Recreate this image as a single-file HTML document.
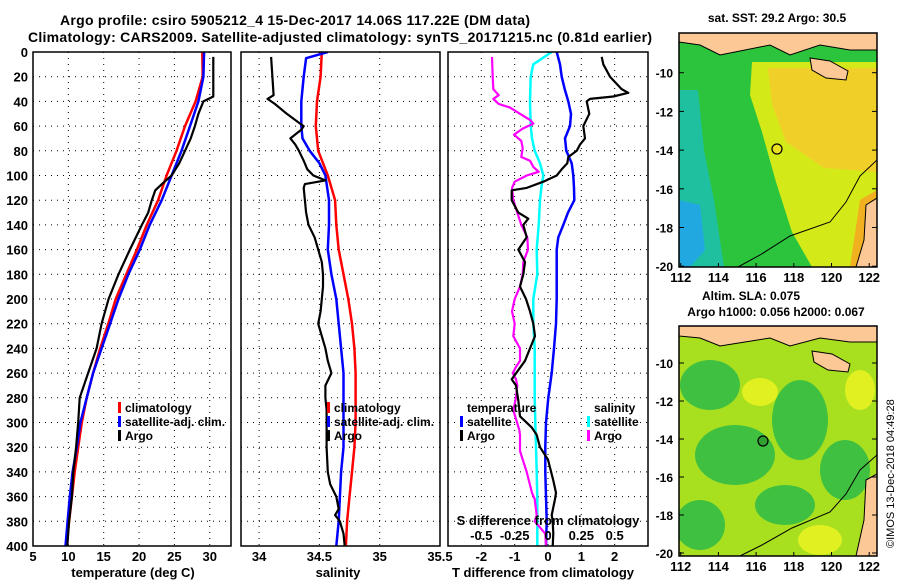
<!DOCTYPE html>
<html><head><meta charset="utf-8"><style>
html,body{margin:0;padding:0;background:#fff;}
svg{display:block;font-family:"Liberation Sans",Arial,sans-serif;font-weight:bold;}
</style></head><body>
<svg id="chart" width="900" height="580" viewBox="0 0 900 580" xmlns="http://www.w3.org/2000/svg">
<defs>
<clipPath id="c1"><rect x="33" y="52" width="198" height="494"/></clipPath>
<clipPath id="c2"><rect x="241" y="52" width="199" height="494"/></clipPath>
<clipPath id="c3"><rect x="448" y="52" width="200" height="494"/></clipPath>
<clipPath id="m1"><rect x="679" y="33" width="198" height="234"/></clipPath>
<clipPath id="m2"><rect x="679" y="326" width="198" height="230"/></clipPath>
</defs>
<text x="60" y="25" font-size="14" textLength="470">Argo profile: csiro 5905212_4 15-Dec-2017 14.06S 117.22E (DM data)</text>
<text x="28" y="42" font-size="14" textLength="624">Climatology: CARS2009. Satellite-adjusted climatology: synTS_20171215.nc (0.81d earlier)</text>

<!-- top map -->
<g clip-path="url(#m1)">
<rect x="679" y="33" width="198" height="234" fill="#2cc43c"/>
<polygon points="679,90 698,90 704,150 714,200 724,267 679,267" fill="#1ec0a0"/>
<polygon points="679,200 700,205 705,250 690,267 679,267" fill="#22a8e0"/>
<polygon points="752,62 877,62 877,267 812,267 792,232 776,182 762,132 750,95" fill="#d4ea18"/>
<polygon points="768,68 877,68 877,172 824,168 786,142 772,104" fill="#f0d028"/>
<polygon points="860,200 877,190 877,267 850,267" fill="#f0b020"/>
<polygon points="738,267 760,255 790,238 800,267" fill="#2cc43c"/>
<polygon points="679,33 877,33 877,50 850,50 820,45 790,55 770,45 745,50 720,55 700,45 679,42" fill="#fcc896" stroke="#000" stroke-width="1"/>
<polygon points="810,58 830,61 848,71 846,80 826,78 812,70" fill="#fcc896" stroke="#000" stroke-width="1"/>
<polygon points="866,205 877,198 877,267 856,267 864,240" fill="#fcc896" stroke="#000" stroke-width="1"/>
<polyline points="738,267 760,255 790,236 830,222 846,202 860,176 877,160" fill="none" stroke="#000" stroke-width="1"/>
<circle cx="777" cy="149" r="5" fill="#e8e020" stroke="#000" stroke-width="1.2"/>
</g>
<rect x="679" y="33" width="198" height="234" fill="none" stroke="#000" stroke-width="1.5"/>
<text x="777" y="22" font-size="12" text-anchor="middle">sat. SST: 29.2 Argo: 30.5</text>

<!-- bottom map -->
<g clip-path="url(#m2)">
<rect x="679" y="326" width="198" height="230" fill="#a8e020"/>
<ellipse cx="710" cy="385" rx="30" ry="25" fill="#40c040"/>
<ellipse cx="735" cy="455" rx="40" ry="30" fill="#40c040"/>
<ellipse cx="800" cy="420" rx="28" ry="40" fill="#40c040"/>
<ellipse cx="845" cy="470" rx="25" ry="30" fill="#40c040"/>
<ellipse cx="700" cy="525" rx="25" ry="25" fill="#40c040"/>
<ellipse cx="785" cy="505" rx="30" ry="20" fill="#40c040"/>
<ellipse cx="760" cy="392" rx="18" ry="14" fill="#e0f020"/>
<ellipse cx="820" cy="540" rx="22" ry="15" fill="#e0f020"/>
<ellipse cx="860" cy="390" rx="15" ry="20" fill="#e0f020"/>
<polygon points="679,326 877,326 877,342 850,342 820,338 790,346 770,338 745,342 720,346 700,338 679,336" fill="#fcc896" stroke="#000" stroke-width="1"/>
<polygon points="812,351 832,354 850,364 848,372 828,370 814,362" fill="#fcc896" stroke="#000" stroke-width="1"/>
<polygon points="866,480 877,474 877,556 856,556 864,520" fill="#fcc896" stroke="#000" stroke-width="1"/>
<polyline points="740,556 762,545 792,528 830,512 846,494 860,470 877,455" fill="none" stroke="#000" stroke-width="1"/>
<circle cx="763" cy="441" r="5" fill="#30a030" stroke="#000" stroke-width="1.2"/>
</g>
<rect x="679" y="326" width="198" height="230" fill="none" stroke="#000" stroke-width="1.5"/>
<text x="751" y="300" font-size="12" text-anchor="middle">Altim. SLA: 0.075</text>
<text x="776" y="316" font-size="12" text-anchor="middle">Argo h1000: 0.056 h2000: 0.067</text>
<text transform="translate(894,548) rotate(-90)" font-size="11" font-weight="normal">©IMOS 13-Dec-2018 04:49:28</text>
<g id="dyn"></g>
</svg>
<script>
// ---- data ----
const depthTicks = [0,20,40,60,80,100,120,140,160,180,200,220,240,260,280,300,320,340,360,380,400];
const climDepths = [0,20,40,60,80,100,120,140,160,180,200,220,240,260,280,300,320,340,360,380,400];
const tempClim = [28.95,29.0,28.0,26.5,25.3,23.9,22.7,21.1,19.7,18.2,16.7,15.65,14.5,13.5,12.6,11.9,11.4,10.9,10.5,10.1,9.7];
const tempSat = [29.2,29.1,28.4,27.2,26.0,24.6,23.2,21.5,20.1,18.5,17.1,15.9,14.7,13.5,12.6,11.7,11.2,10.6,10.2,9.9,9.6];
const tempArgoDepths = [4,36,40,50,60,70,80,90,100,106,112,120,130,140,160,180,200,220,240,260,280,300,320,340,360,380,400];
const tempArgo = [30.5,30.5,29.1,28.4,27.9,27.3,26.5,25.7,24.6,23.4,22.3,21.8,21.3,20.4,18.7,17.1,15.7,14.7,14.0,12.8,11.6,11.4,11.1,10.7,10.5,10.1,9.85];
const salClim = [34.52,34.51,34.48,34.47,34.49,34.57,34.63,34.64,34.66,34.70,34.74,34.77,34.79,34.80,34.80,34.80,34.79,34.77,34.75,34.73,34.72];
const salSatDepths = [0,5,20,40,60,70,80,90,100,120,140,160,180,200,220,240,260,280,300,320,340,360,380,400];
const salSat = [34.57,34.39,34.37,34.35,34.35,34.36,34.42,34.50,34.55,34.58,34.58,34.57,34.60,34.64,34.66,34.68,34.70,34.70,34.70,34.70,34.68,34.67,34.66,34.64];
const salArgoDepths = [4,20,35,38,42,50,58,60,63,66,70,75,80,88,95,100,104,107,110,120,130,140,150,160,170,180,190,200,210,220,230,240,250,260,270,280,290,300,320,340,350,360,370,375,380,390,400];
const salArgo = [34.10,34.11,34.12,34.07,34.13,34.23,34.34,34.37,34.35,34.31,34.26,34.30,34.33,34.37,34.40,34.45,34.55,34.38,34.37,34.38,34.39,34.41,34.46,34.49,34.52,34.53,34.53,34.52,34.51,34.49,34.52,34.55,34.57,34.60,34.55,34.55,34.56,34.56,34.56,34.57,34.59,34.64,34.66,34.63,34.67,34.70,34.71];
const tdiffSatDepths = [0,10,20,30,40,50,60,70,80,90,100,110,120,130,140,150,160,180,200,220,240,260,280,300,320,340,360,380,400];
const tdiffSat = [0.26,0.36,0.41,0.5,0.61,0.69,0.66,0.51,0.55,0.71,0.76,0.78,0.79,0.6,0.46,0.31,0.26,0.26,0.26,0.24,0.18,0.11,0.01,-0.06,-0.08,-0.08,-0.06,-0.04,-0.06];
const tdiffArgoDepths = [4,10,20,30,33,36,38,40,50,60,70,75,80,85,90,95,100,105,110,112,120,130,135,140,150,160,170,180,190,200,210,220,230,240,250,265,270,282,295,304,310,320,330,347,357,362,375,380,390,400];
const tdiffArgo = [1.61,1.66,1.86,2.21,2.41,1.96,1.26,1.16,1.24,1.06,1.11,0.96,0.86,0.61,0.58,0.41,0.26,-0.14,-0.64,-1.09,-1.09,-0.89,-0.59,-0.74,-0.64,-0.89,-0.69,-0.74,-0.84,-0.66,-0.54,-0.44,-0.39,-0.54,-0.69,-1.09,-0.96,-0.89,-0.84,-0.49,-0.34,-0.24,0,0.16,0.24,0.21,0.11,0.14,0.16,0.14];
const sdiffSatDepths = [0,10,20,40,60,70,80,90,100,110,120,140,160,180,200,220,240,260,280,300,340,360,380,400];
const sdiffSat = [0.028,-0.11,-0.13,-0.135,-0.13,-0.12,-0.10,-0.06,-0.035,-0.05,-0.06,-0.07,-0.085,-0.08,-0.11,-0.11,-0.10,-0.10,-0.10,-0.095,-0.085,-0.08,-0.08,-0.08];
const sdiffArgoDepths = [4,20,30,35,38,42,45,50,55,58,62,67,72,78,85,88,93,97,100,105,110,120,130,140,150,160,170,180,190,200,210,220,230,240,250,255,260,265,270,280,290,306,310,323,330,340,357,362,375,380,390,400];
const sdiffArgo = [-0.42,-0.415,-0.41,-0.37,-0.41,-0.37,-0.285,-0.21,-0.135,-0.11,-0.19,-0.255,-0.20,-0.19,-0.20,-0.135,-0.11,-0.07,-0.16,-0.25,-0.27,-0.26,-0.23,-0.20,-0.155,-0.15,-0.185,-0.19,-0.21,-0.25,-0.27,-0.25,-0.26,-0.21,-0.21,-0.24,-0.265,-0.24,-0.23,-0.24,-0.26,-0.215,-0.21,-0.21,-0.19,-0.16,-0.12,-0.10,-0.085,-0.10,-0.02,-0.015];
const tempTicks = [5,10,15,20,25,30];
const salTicks = [34,34.5,35,35.5];
const salTickLabels = ["34","34.5","35","35.5"];
const tdiffTicks = [-2,-1,0,1,2];
const tdiffTickLabels = ["-2","-1","0","1","2"];
const sdiffTicks = [-0.5,-0.25,0,0.25,0.5];
const sdiffTickLabels = ["-0.5","-0.25","0","0.25","0.5"];
const latTicks = [-10,-12,-14,-16,-18,-20];
const lonTicks = [112,114,116,118,120,122];

// ---- scales ----
const yD = d => 52 + d*1.235;
const xT = t => 33 + (t-5)*7.07;
const xS = s => 241 + (s-33.85)*120.6;
const xD = v => 448 + (v+3)*33.33;
const xSD = v => xD(v*4);
const latTop = l => 72.7 + (-10 - l)*19.35;
const latBot = l => 363 + (-10 - l)*19;
const lonX = l => 680.7 + (l-112)*18.85;

const NS='http://www.w3.org/2000/svg';
const root=document.getElementById('dyn');
function mk(tag, attrs, parent){const e=document.createElementNS(NS,tag);for(const k in attrs)e.setAttribute(k,attrs[k]);(parent||root).appendChild(e);return e;}

function panel(x0,x1,clip,name){
  const g=mk('g',{});
  
  
  depthTicks.forEach(d=>{
    const l=mk('line',{x1:x0,x2:x1,y1:yD(d),y2:yD(d),stroke:'#000','stroke-width':1,'stroke-dasharray':'1,5'},g);
    
    
  });
  return g;
}
function vgrid(g,vals,fx){vals.forEach(v=>{const l=mk('line',{x1:fx(v),x2:fx(v),y1:52,y2:546,stroke:'#000','stroke-width':1,'stroke-dasharray':'1,5'},g);
  
  });}
function series(g,depths,vals,fx,color,w,clip,name){
  const pts=depths.map((d,i)=>fx(vals[i]).toFixed(1)+','+yD(d).toFixed(1)).join(' ');
  const p=mk('polyline',{points:pts,fill:'none',stroke:color,'stroke-width':w,'clip-path':'url(#'+clip+')','stroke-linejoin':'round'},g);
  
  
}
function border(g,x0,x1){const r=mk('rect',{x:x0,y:52,width:x1-x0,height:494,fill:'none',stroke:'#000','stroke-width':1.5},g);
  
  }
function txt(g,x,y,s,anchor,size){const t=mk('text',{x:x,y:y,'font-size':size||13,'text-anchor':anchor||'start'},g);t.textContent=s;return t;}
function legendRow(g,x,y,color,label){
  const b=mk('rect',{x:x,y:y-10,width:3,height:11,fill:color},g);
  
  
  const t=txt(g,x+7,y,label,'start',12);
  
  
}

// Panel 1 temperature
const g1=panel(33,231,'c1','temperature-panel');
vgrid(g1,[10,15,20,25,30],xT);
series(g1,climDepths,tempClim,xT,'#ff0000',2.5,'c1','temp-climatology-line');
series(g1,climDepths,tempSat,xT,'#0000ff',2.5,'c1','temp-satellite-line');
series(g1,tempArgoDepths,tempArgo,xT,'#000',2.2,'c1','temp-argo-line');
border(g1,33,231);
depthTicks.forEach(d=>{const t=txt(g1,28,yD(d)+5,String(d),'end');
  
  });
tempTicks.forEach(v=>{const t=txt(g1,xT(v),561,String(v),'middle');
  
  });
const a1=txt(g1,133,577,'temperature (deg C)','middle');


legendRow(g1,118,412,'#ff0000','climatology');
legendRow(g1,118,426,'#0000ff','satellite-adj. clim.');
legendRow(g1,118,440,'#000','Argo');

// Panel 2 salinity
const g2=panel(241,440,'c2','salinity-panel');
vgrid(g2,[34,34.5,35],xS);
series(g2,climDepths,salClim,xS,'#ff0000',2.5,'c2','sal-climatology-line');
series(g2,salSatDepths,salSat,xS,'#0000ff',2.5,'c2','sal-satellite-line');
series(g2,salArgoDepths,salArgo,xS,'#000',2.2,'c2','sal-argo-line');
border(g2,241,440);
salTicks.forEach((v,i)=>{const t=txt(g2,xS(v),561,salTickLabels[i],'middle');
  
  });
const a2=txt(g2,338,577,'salinity','middle');


legendRow(g2,327,412,'#ff0000','climatology');
legendRow(g2,327,426,'#0000ff','satellite-adj. clim.');
legendRow(g2,327,440,'#000','Argo');

// Panel 3 differences
const g3=panel(448,648,'c3','difference-panel');
vgrid(g3,[-2,-1,0,1,2],xD);
series(g3,sdiffSatDepths,sdiffSat,xSD,'#00ffff',2.5,'c3','sdiff-satellite-line');
series(g3,tdiffSatDepths,tdiffSat,xD,'#0000ff',2.5,'c3','tdiff-satellite-line');
series(g3,sdiffArgoDepths,sdiffArgo,xSD,'#ff00ff',2.2,'c3','sdiff-argo-line');
series(g3,tdiffArgoDepths,tdiffArgo,xD,'#000',2.2,'c3','tdiff-argo-line');
border(g3,448,648);
tdiffTicks.forEach((v,i)=>{const t=txt(g3,xD(v),561,tdiffTickLabels[i],'middle');
  
  });
const a3=txt(g3,543,577,'T difference from climatology','middle');


const a4=txt(g3,548,525,'S difference from climatology','middle');


sdiffTicks.forEach((v,i)=>{const t=txt(g3,xSD(v),540,sdiffTickLabels[i],'middle');
  
  });
const lt=txt(g3,467,412,'temperature','start',12);


const ls=txt(g3,594,412,'salinity','start',12);


legendRow(g3,460,426,'#0000ff','satellite');
legendRow(g3,460,440,'#000','Argo');
legendRow(g3,587,426,'#00ffff','satellite');
legendRow(g3,587,440,'#ff00ff','Argo');

// map axes
const gm=mk('g',{});


latTicks.forEach(l=>{
  [latTop,latBot].forEach(f=>{
    const y=f(l);
    const t=txt(gm,673,y+5,String(l),'end',12);
    
    
    const tk=mk('line',{x1:679,x2:684,y1:y,y2:y,stroke:'#000','stroke-width':1},gm);
    
    
    const tk2=mk('line',{x1:872,x2:877,y1:y,y2:y,stroke:'#000','stroke-width':1},gm);
    
    
  });
});
lonTicks.forEach(l=>{
  [[267,282],[556,571]].forEach(([by,ty])=>{
    const x=lonX(l);
    const t=txt(gm,x,ty,String(l),'middle',13);
    
    
    const tk=mk('line',{x1:x,x2:x,y1:by-4,y2:by,stroke:'#000','stroke-width':1},gm);
    
    
  });
});
</script>
</body></html>
